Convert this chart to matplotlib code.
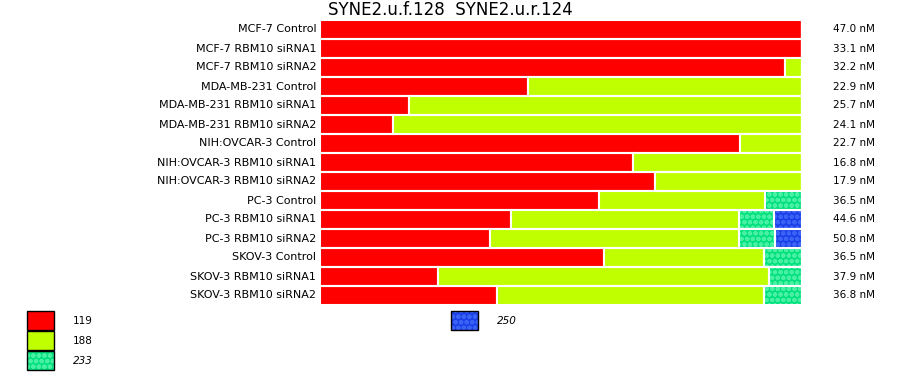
import matplotlib
matplotlib.use("Agg")
import matplotlib.pyplot as plt
from matplotlib.patches import Rectangle

# samples, top to bottom
samples = [
    "MCF-7 Control", "MCF-7 RBM10 siRNA1", "MCF-7 RBM10 siRNA2",
    "MDA-MB-231 Control", "MDA-MB-231 RBM10 siRNA1", "MDA-MB-231 RBM10 siRNA2",
    "NIH:OVCAR-3 Control", "NIH:OVCAR-3 RBM10 siRNA1", "NIH:OVCAR-3 RBM10 siRNA2",
    "PC-3 Control", "PC-3 RBM10 siRNA1", "PC-3 RBM10 siRNA2",
    "SKOV-3 Control", "SKOV-3 RBM10 siRNA1", "SKOV-3 RBM10 siRNA2",
]
concentrations = ["47.0 nM", "33.1 nM", "32.2 nM", "22.9 nM", "25.7 nM", "24.1 nM",
                  "22.7 nM", "16.8 nM", "17.9 nM", "36.5 nM", "44.6 nM", "50.8 nM",
                  "36.5 nM", "37.9 nM", "36.8 nM"]

# fraction of each product size per sample
frac_119 = [1.0, 1.0, 0.965, 0.431, 0.185, 0.152, 0.871, 0.650, 0.694,
            0.579, 0.396, 0.352, 0.590, 0.244, 0.367]
frac_188 = [0.0, 0.0, 0.035, 0.569, 0.815, 0.848, 0.129, 0.350, 0.306,
            0.345, 0.473, 0.517, 0.332, 0.688, 0.555]
frac_233 = [0.0, 0.0, 0.0, 0.0, 0.0, 0.0, 0.0, 0.0, 0.0,
            0.076, 0.073, 0.075, 0.078, 0.068, 0.078]
frac_250 = [0.0, 0.0, 0.0, 0.0, 0.0, 0.0, 0.0, 0.0, 0.0,
            0.0, 0.058, 0.056, 0.0, 0.0, 0.0]

sizes = ["119", "188", "233", "250"]
colors = ["#ff0000", "#c0ff00", "#00e07c", "#1a3fe8"]
dot_colors = [None, None, "#48f0a4", "#3a62f4"]
italic = [False, False, True, True]

plt.rcParams["hatch.linewidth"] = 1.5
fig = plt.figure(figsize=(9, 3.75), dpi=100)
ax = fig.add_axes([320 / 900, 1 - 305 / 375, 482 / 900, 285 / 375])

y = list(range(len(samples)))
left = [0.0] * len(samples)
for fr, col, dcol in zip([frac_119, frac_188, frac_233, frac_250], colors, dot_colors):
    ax.barh(y, fr, left=left, height=1.0, color=col, linewidth=0)
    if dcol:
        ax.barh(y, fr, left=left, height=1.0, color="none", edgecolor=dcol,
                linewidth=0, hatch="ooo")
    # white outline gives the gaps between segments and rows
    ax.barh(y, fr, left=left, height=1.0, color="none", edgecolor="white", linewidth=1.5)
    left = [a + b for a, b in zip(left, fr)]

ax.set_xlim(0, 1)
ax.set_ylim(len(samples) - 0.5, -0.5)
ax.axis("off")

for i, (s, c) in enumerate(zip(samples, concentrations)):
    ax.text(-0.008, i, s, ha="right", va="center", fontsize=8)
    ax.text(1.065, i, c, ha="left", va="center", fontsize=7.5)

fig.text(450 / 900, 1 - 10 / 375, "SYNE2.u.f.128  SYNE2.u.r.124",
         ha="center", va="center", fontsize=12)

# legend boxes
legend_pos = [(27, 311), (27, 331), (27, 351), (451, 311)]
for (px, py), lab, col, dcol, it in zip(legend_pos, sizes, colors, dot_colors, italic):
    box = (px / 900, 1 - (py + 19) / 375)
    fig.add_artist(Rectangle(box, 27 / 900, 19 / 375, transform=fig.transFigure,
                             facecolor=col, linewidth=0))
    if dcol:
        fig.add_artist(Rectangle(box, 27 / 900, 19 / 375, transform=fig.transFigure,
                                 facecolor="none", edgecolor=dcol, linewidth=0, hatch="ooo"))
    fig.add_artist(Rectangle(box, 27 / 900, 19 / 375, transform=fig.transFigure,
                             facecolor="none", edgecolor="black", linewidth=1))
    fig.text((px + 46) / 900, 1 - (py + 10) / 375, lab, ha="left", va="center",
             fontsize=7.5, style="italic" if it else "normal")

fig.savefig("out.png", dpi=100)
